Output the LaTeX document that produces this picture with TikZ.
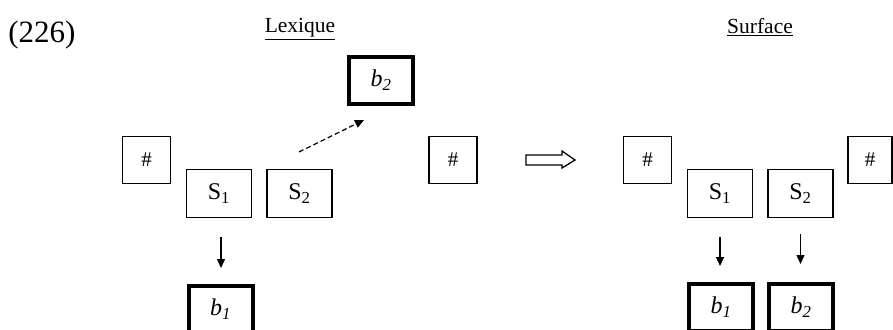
\documentclass[tikz,border=0pt]{standalone}
\usepackage{fontspec}
\setmainfont{Liberation Serif}
\usetikzlibrary{arrows.meta}
\begin{document}
\begin{tikzpicture}[x=1pt,y=-1pt,
  thinbox/.style={draw,line width=1.3pt,inner sep=0pt,font=\fontsize{24}{28}\selectfont},
  hashbox/.style={thinbox,minimum width=48pt,minimum height=47pt,font=\fontsize{21}{25}\selectfont},
  sbox/.style={thinbox,minimum width=65pt,minimum height=48pt},
  bbox/.style={draw,line width=4pt,inner sep=0pt,minimum width=64pt,minimum height=47pt,font=\fontsize{24}{28}\selectfont\itshape},
  down/.style={line width=1.3pt,-{Triangle[length=9pt,width=8pt]}},
  title/.style={anchor=base,inner sep=0pt,font=\fontsize{21.5}{25}\selectfont}]
\fill[white] (0,0) rectangle (893,329);
\clip (0,0) rectangle (893,329);
% labels
\node[anchor=base,inner sep=0pt,font=\fontsize{31}{36}\selectfont] (num) at (42,43) {(226)};
\node[title] (lex) at (300,33) {\underline{Lexique}};
\node[title] (surf) at (760,34) {\underline{Surface}};
% Lexique
\node[hashbox] (h1) at (146.5,160) {\#};
\node[sbox] (s1l) at (219,193.5) {S\textsubscript{1}};
\node[sbox] (s2l) at (299.5,193.5) {S\textsubscript{2}};
\node[bbox] (b2l) at (381,80.5) {b\textsubscript{2}};
\node[hashbox] (h2) at (453,160) {\#};
\node[bbox] (b1l) at (220.5,309.5) {b\textsubscript{1}};
% Surface
\node[hashbox] (h3) at (647.5,160) {\#};
\node[sbox] (s1r) at (720,193.5) {S\textsubscript{1}};
\node[sbox] (s2r) at (800.5,193.5) {S\textsubscript{2}};
\node[thinbox,minimum width=44pt,minimum height=47pt,font=\fontsize{21}{25}\selectfont] (h4) at (870,160) {\#};
\node[bbox] (b1r) at (721,307.5) {b\textsubscript{1}};
\node[bbox] (b2r) at (801,307.5) {b\textsubscript{2}};
% arrows
\draw[down,shorten <=19pt,shorten >=16pt] ([xshift=2pt]s1l.south) -- ([xshift=2pt]s1l.south |- b1l.north);
\draw[down,shorten <=19pt,shorten >=16pt] (s1r.south) -- (s1r.south |- b1r.north);
\draw[down,shorten <=16pt,shorten >=18pt] (s2r.south) -- (s2r.south |- b2r.north);
\coordinate (dA) at (299,152);
\coordinate (dB) at (364,120);
\draw[line width=1.2pt,dash pattern=on 5pt off 3pt,-{Triangle[length=9pt,width=8pt]}] (dA) -- (dB);
% hollow implication arrow
\draw[line width=1.3pt,line join=miter] (526,155) -- (562,155) -- (562,151) -- (575,160) -- (562,168) -- (562,165) -- (526,165) -- cycle;
\end{tikzpicture}
\end{document}
